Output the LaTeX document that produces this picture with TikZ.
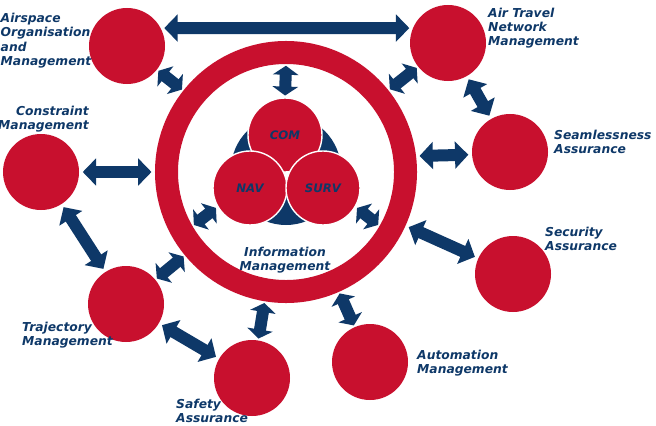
\documentclass[tikz,border=0pt]{standalone}
\usepackage{fontspec}
\setmainfont{DejaVu Sans}
\usetikzlibrary{arrows.meta}
\definecolor{imred}{RGB}{200,16,46}
\definecolor{imblue}{RGB}{14,56,104}
\begin{document}
\begin{tikzpicture}[x=0.03cm, y=-0.03cm,
    areadisc/.style={circle, fill=imred, minimum size=2.28cm, inner sep=0pt},
    cns/.style={circle, fill=imred, draw=white, line width=1.2pt, minimum size=2.22cm, inner sep=0pt, font=\fontsize{10}{12}\selectfont\bfseries\itshape, text=imblue},
    lbl/.style={font=\fontsize{10.5}{12.2}\selectfont\bfseries\itshape, text=imblue, inner sep=0pt},
    link/.style={draw=imblue, line width=0.36cm, {Triangle[length=0.4cm,width=0.8cm]}-{Triangle[length=0.4cm,width=0.8cm]}, shorten <=3pt, shorten >=3pt},
    stub/.style={link, {Triangle[length=0.27cm,width=0.76cm]}-{Triangle[length=0.27cm,width=0.76cm]}, shorten <=1.5pt, shorten >=1.5pt}]
      \useasboundingbox (0,0) rectangle (656,425);

      % Information Management ring and its inner edge
      \node[circle, draw=imred, line width=0.69cm, minimum size=7.17cm, inner sep=0pt] (info) at (286,172) {};
      \node[circle, minimum size=6.48cm, inner sep=0pt, outer sep=0pt] (infoin) at (286,172) {};

      % COM / NAV / SURV core on a dark blue disc
      \node[circle, fill=imblue, minimum size=3.3cm, inner sep=0pt] (cnsback) at (286,170) {};
      \fill[white] (276,164) -- (296,164) -- (286,182) -- cycle;
      \node[cns] (com) at (285,135) {COM};
      \node[cns] (nav) at (250,188) {NAV};
      \node[cns] (surv) at (323,188) {SURV};

      % Outer areas
      \node[areadisc] (airspace) at (127,46) {};
      \node[areadisc] (airtravel) at (448,43) {};
      \node[areadisc] (seam) at (510,152) {};
      \node[areadisc] (security) at (513,274) {};
      \node[areadisc] (automation) at (370,362) {};
      \node[areadisc] (safety) at (252,378) {};
      \node[areadisc] (trajectory) at (126,304) {};
      \node[areadisc] (constraint) at (41,172) {};

      % Labels
      \node[lbl, anchor=north west, align=left] (airspacetxt) at (0.5,13) {Airspace\\Organisation\\and\\Management};
      \node[lbl, anchor=north west, align=left] (airtraveltxt) at (488,7.5) {Air Travel\\Network\\Management};
      \node[lbl, anchor=north west, align=left] (seamtxt) at (554,130) {Seamlessness\\Assurance};
      \node[lbl, anchor=north west, align=left] (securitytxt) at (545,227) {Security\\Assurance};
      \node[lbl, anchor=north west, align=left] (automationtxt) at (417,350) {Automation\\Management};
      \node[lbl, anchor=north west, align=left] (safetytxt) at (176,399) {Safety\\Assurance};
      \node[lbl, anchor=north west, align=left] (trajectorytxt) at (22,322) {Trajectory\\Management};
      \node[lbl, anchor=north east, align=right] (constrainttxt) at (89,105.5) {Constraint\\Management};
      \node[lbl, anchor=north, align=center] (infotxt) at (285,247) {Information\\Management};

      % Double arrows between the areas
      \draw[link] (airspace.28) -- (airtravel.157);
      \draw[link] (airtravel) -- (seam);
      \draw[link] (seam.184) -- (info.7.5);
      \draw[link] (security) -- (info);
      \draw[link] (trajectory) -- (safety);
      \draw[link] (constraint) -- (trajectory);
      \draw[link] (constraint) -- (info);

      % Short double arrows to the ring
      \draw[stub] (airspace) -- (info);
      \draw[stub] (airtravel) -- (info);
      \draw[stub] (automation) -- (info);
      \draw[stub] (safety) -- (info);
      \draw[stub] (trajectory) -- (info);
      \draw[stub] (com.north) -- (infoin.north);
      \draw[stub] (nav.210) -- (infoin.210);
      \draw[stub] (surv.330) -- (infoin.330);
    \end{tikzpicture}
\end{document}
